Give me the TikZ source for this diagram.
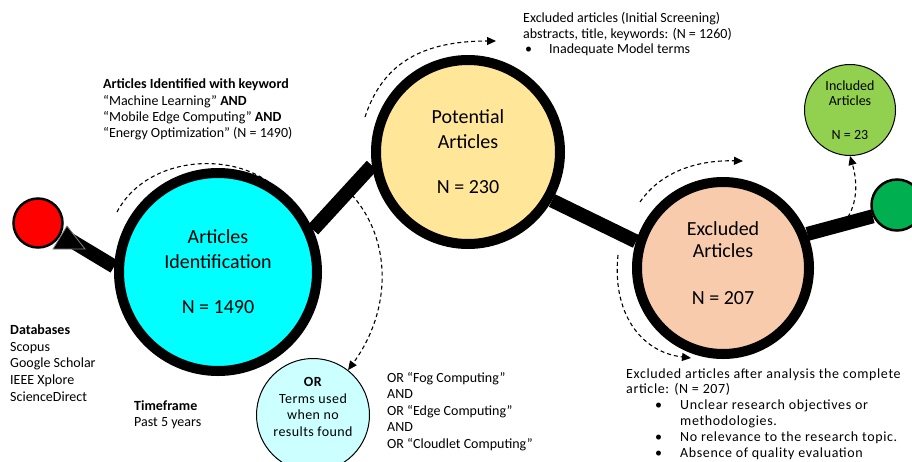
\documentclass[tikz,border=0pt]{standalone}
\usepackage{fontspec}
\setmainfont{Carlito}
\usetikzlibrary{arrows.meta}
\definecolor{cyanfill}{HTML}{00FFFF}
\definecolor{yellowfill}{HTML}{FFE699}
\definecolor{peachfill}{HTML}{F8CBAD}
\definecolor{redfill}{HTML}{FF0000}
\definecolor{greenfill}{HTML}{00B050}
\definecolor{lgreenfill}{HTML}{92D050}
\definecolor{lcyanfill}{HTML}{CCFFFF}
\pgfdeclarelayer{bg}
\pgfsetlayers{bg,main}
\begin{document}
\begin{tikzpicture}[x=1pt,y=-1pt,
  bigc/.style={circle, draw=black, line width=10pt, inner sep=0pt, align=center, font=\fontsize{20}{25}\selectfont},
  smallc/.style={circle, draw=black, line width=1pt, inner sep=0pt},
  endc/.style={circle, draw=black, line width=2.5pt, inner sep=0pt},
  intext/.style={inner sep=0pt, align=center},
  conn/.style={line width=14pt},
  dasharrow/.style={dash pattern=on 4pt off 3pt, line width=1.1pt, -{Triangle[length=9pt,width=8pt]}},
  txt/.style={anchor=base west, inner sep=0pt, font=\fontsize{14}{16}\selectfont},
  wtxt/.style={txt, font=\fontsize{14}{16}\selectfont\addfontfeatures{LetterSpace=4.5}}
]
\useasboundingbox (0,0) rectangle (912,461);
\clip (0,0) rectangle (912,461);

% circles
\node[endc, fill=redfill, minimum size=49pt] (red) at (38,223) {};
\node[endc, fill=greenfill, minimum size=51pt] (green) at (897,205) {};
\node[bigc, fill=cyanfill, minimum size=198pt] (cyan) at (218,272) {Articles\\Identification\\[20pt]N = 1490};
\node[bigc, fill=yellowfill, minimum size=184pt] (yellow) at (468,152) {Potential\\Articles\\[20pt]N = 230};
\node[bigc, fill=peachfill, minimum size=172pt] (peach) at (723,268) {};
\node[intext, font=\fontsize{20}{22}\selectfont] (peachT) at (723,263) {Excluded\\Articles\\[25pt]N = 207};
\node[smallc, fill=lgreenfill, minimum size=91pt] (inc) at (850,110) {};
\node[intext, font=\fontsize{14}{15}\selectfont] (incT) at (850,110) {Included\\Articles\\[19pt]N = 23};
\node[smallc, fill=lcyanfill, minimum size=113pt] (orc) at (313,415) {};
\node[intext, font=\fontsize{14}{16.7}\selectfont\addfontfeatures{LetterSpace=3}] (orT) at (313,407) {\textbf{OR}\\Terms used\\when no\\results found};

% triangle
\coordinate (tri) at (70,240);
\filldraw[fill=black, draw=gray, line width=0.8pt] (67,226) -- (85,249) -- (53,249) -- cycle;

% connectors
\begin{pgfonlayer}{bg}
\draw[conn] (tri) -- (cyan.177);
\draw[conn] (cyan.24) -- (yellow.188);
\draw[conn] (yellow.330) -- (peach.163);
\draw[conn] (peach.22) -- (green.205);
\end{pgfonlayer}

% dashed arrows
\coordinate (a1s) at (117,212); \coordinate (a1e) at (290,205);
\draw[dasharrow] (a1s) .. controls (150,150) and (250,150) .. (a1e);
\coordinate (a2s) at (365,117); \coordinate (a2e) at (496,41);
\draw[dasharrow] (a2s) .. controls (382,65) and (420,41) .. (a2e);
\coordinate (a3s) at (352,195);
\draw[dasharrow] (a3s) .. controls (392,240) and (392,310) .. (orc.52);
\coordinate (a4s) at (640,202); \coordinate (a4e) at (743,161);
\draw[dasharrow] (a4s) .. controls (662,170) and (700,160) .. (a4e);
\coordinate (a5s) at (618,255); \coordinate (a5e) at (691,358);
\draw[dasharrow] (a5s) .. controls (612,312) and (640,352) .. (a5e);
\coordinate (a6s) at (848,217);
\draw[dasharrow] (a6s) .. controls (858,200) and (857,180) .. (inc.south);

% texts
\node[txt] (k1) at (103,88) {\textbf{Articles Identified with keyword}};
\node[txt] (k2) at (103,105) {“Machine Learning” \textbf{AND}};
\node[txt] (k3) at (103,121) {“Mobile Edge Computing” \textbf{AND}};
\node[txt] (k4) at (103,137) {“Energy Optimization” (N = 1490)};

\node[txt] (e1) at (523,22) {Excluded articles (Initial Screening)};
\node[txt] (e2) at (523,38) {abstracts, title, keywords: (N = 1260)};
\node[txt] (e3) at (525,53) {•};
\node[txt] (e4) at (549,53) {Inadequate Model terms};

\node[txt] (d1) at (10,334) {\textbf{Databases}};
\node[txt] (d2) at (10,351) {Scopus};
\node[txt] (d3) at (10,367) {Google Scholar};
\node[txt] (d4) at (10,384) {IEEE Xplore};
\node[txt] (d5) at (10,401) {ScienceDirect};

\node[txt] (t1) at (134,410) {\textbf{Timeframe}};
\node[txt] (t2) at (134,426) {Past 5 years};

\node[txt] (o1) at (387,382) {OR “Fog Computing”};
\node[txt] (o2) at (387,398) {AND};
\node[txt] (o3) at (387,415) {OR “Edge Computing”};
\node[txt] (o4) at (387,431) {AND};
\node[txt] (o5) at (387,448) {OR “Cloudlet Computing”};

\node[wtxt] (x1) at (626,378) {Excluded articles after analysis the complete};
\node[wtxt] (x2) at (626,393) {article: (N = 207)};
\node[txt] (x3) at (655,409) {•};
\node[wtxt] (x4) at (680,409) {Unclear research objectives or};
\node[wtxt] (x5) at (680,425) {methodologies.};
\node[txt] (x6) at (655,441) {•};
\node[wtxt] (x7) at (680,441) {No relevance to the research topic.};
\node[txt] (x8) at (655,457) {•};
\node[wtxt] (x9) at (680,457) {Absence of quality evaluation};
\end{tikzpicture}
\end{document}
